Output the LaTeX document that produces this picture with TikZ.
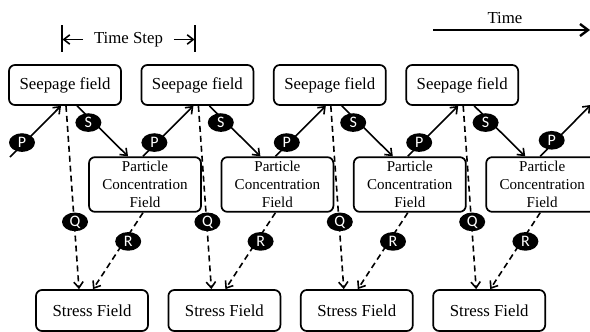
\documentclass[tikz,border=0pt]{standalone}
\usepackage{fontspec}
\setmainfont{Liberation Serif}
\newfontfamily\lettfont{Carlito}
\usetikzlibrary{arrows.meta,shapes.geometric,calc}
\begin{document}
\begin{tikzpicture}[x=0.75pt,y=-0.75pt,
 box/.style={draw,line width=1.3pt,rounded corners=4.5pt,minimum width=84pt,inner sep=0pt,align=center,font=\fontsize{12.6}{15}\selectfont},
 seep/.style={box,minimum height=30pt},
 part/.style={box,minimum height=41pt,font=\fontsize{11.3}{13.5}\selectfont},
 stressbox/.style={box,minimum height=30.75pt},
 lbl/.style={ellipse,fill=black,text=white,inner sep=0pt,minimum width=19.5pt,minimum height=14pt,font=\lettfont\fontsize{12}{12}\selectfont},
 solidarr/.style={line width=1.2pt,-{Straight Barb[length=4.5pt,width=7pt]}},
 dasharr/.style={solidarr,dash pattern=on 4.5pt off 3pt},
 txt/.style={inner sep=0pt,font=\fontsize{12.6}{15}\selectfont},
]
\useasboundingbox (0,0) rectangle (590,332);
% boxes
\foreach \i in {0,1,2,3}{
  \pgfmathsetmacro{\cs}{65+132.4*\i}
  \pgfmathsetmacro{\cp}{145+132.4*\i}
  \pgfmathsetmacro{\ct}{92+132.4*\i}
  \node[seep] (s\i) at (\cs,85) {Seepage field};
  \node[part] (p\i) at (\cp,184.5) {Particle\\Concentration\\Field};
  \node[stressbox] (t\i) at (\ct,310.5) {Stress Field};
}
% free ends
\coordinate (pstart) at (10,157);
\coordinate (pend) at (590.6,105);
% connectors
\draw[solidarr] (pstart) -- ($(s0.south)+(-4,0)$);
\foreach \i/\j in {0/1,1/2,2/3}{
  \draw[solidarr] ($(p\i.north)+(-2,0)$) -- ($(s\j.south)+(-4,0)$);
}
\draw[solidarr] ($(p3.north)+(-2,0)$) -- (pend);
\foreach \i in {0,1,2,3}{
  \draw[solidarr] ($(s\i.south)+(12,0)$) -- ($(p\i.north)+(-17,0)$);
  \draw[dasharr] ($(s\i.south)+(1,0)$) -- ($(t\i.north)+(-13,0)$);
  \draw[dasharr] ($(p\i.south)+(-2,0)$) -- ($(t\i.north)+(1,0)$);
}
% labels
\foreach \i in {0,1,2,3}{
  \node[lbl] (P\i) at ($(s\i.south)+(-43,36.7)$) {P};
  \node[lbl] (S\i) at ($(s\i.south)+(23.4,16.7)$) {S};
  \node[lbl] (Q\i) at ($(s\i.south)+(10,116)$) {Q};
  \node[lbl] (R\i) at ($(p\i.south)+(-16.8,28.7)$) {R};
}
\node[lbl] (P4) at ($(p3.north)+(9.5,-16)$) {P};
% time step
\draw[line width=1.3pt] (62,25) -- (62,52);
\draw[line width=1.3pt] (195,25) -- (195,52);
\coordinate (barL) at (62.5,39.5);
\coordinate (barR) at (194.5,39.5);
\node[txt] (ts) at (128.5,39.5) {Time Step};
\draw[solidarr] ([xshift=-8pt]ts.west) -- (barL);
\draw[solidarr] ([xshift=8pt]ts.east) -- (barR);
% time
\node[txt] (time) at (505,18) {Time};
\coordinate (ta) at (433,30);
\coordinate (tb) at (590,30);
\draw[line width=1.8pt,-{Straight Barb[length=6pt,width=9pt]}] (ta) -- (tb);
\end{tikzpicture}
\end{document}
